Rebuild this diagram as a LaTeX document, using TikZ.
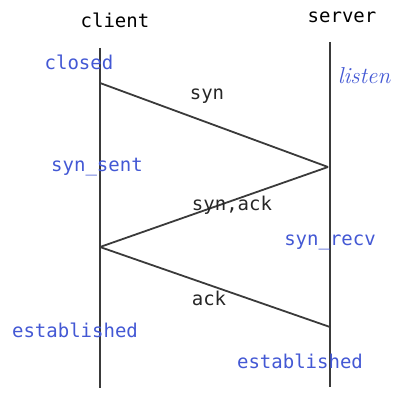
\documentclass[tikz,border=0pt]{standalone}
\usepackage{fontspec}
\setmonofont{DejaVu Sans Mono}
\usepackage{tikz}
\usetikzlibrary{positioning}
\definecolor{stateblue}{HTML}{4358D4}
\definecolor{lineGray}{HTML}{3A3A3A}
\tikzset{
	actor/.style={font=\ttfamily\fontsize{19}{21}\selectfont, text=black, inner sep=0pt},
	state/.style={font=\ttfamily\fontsize{19}{21}\selectfont, text=stateblue, inner sep=0pt},
	msg/.style={font=\ttfamily\fontsize{19}{21}\selectfont, text=black!85, inner sep=0pt},
	lifeline/.style={draw=lineGray, line width=1.8pt},
	packet/.style={draw=lineGray, line width=1.8pt}
}

\begin{document}
\begin{tikzpicture}[x=1pt, y=-1pt]
	\useasboundingbox (0,0) rectangle (419,414);
	% lifelines
	\coordinate (ctop) at (100,48);
	\coordinate (cbot) at (100,388);
	\coordinate (stop) at (330,42);
	\coordinate (sbot) at (330,387);
	\draw[lifeline] (ctop) -- (cbot);
	\draw[lifeline] (stop) -- (sbot);
	\node[actor] (client) at (115,20) {client};
	\node[actor] (server) at (342,17) {server};
	% handshake
	\coordinate (c1) at (100,83);
	\coordinate (s1) at (328,167);
	\coordinate (c2) at (100,247);
	\coordinate (s2) at (330,327);
	\draw[packet] (c1) -- (s1);
	\draw[packet] (s1) -- (c2);
	\draw[packet] (c2) -- (s2);
	\node[msg] (syn) at (207,96) {syn};
	\node[msg] (synack) at (232,205) {syn,ack};
	\node[msg] (ack) at (209,298) {ack};
	% states
	\node[state] (closed) at (79,62) {closed};
	\node[state, font=\itshape\fontsize{23}{25}\selectfont] (listen) at (364,76) {listen};
	\node[state] (synsent) at (97,167) {syn\_sent};
	\node[state] (synrecv) at (330,242) {syn\_recv};
	\node[state] (estc) at (75,330) {established};
	\node[state] (ests) at (300,361) {established};
\end{tikzpicture}
\end{document}
